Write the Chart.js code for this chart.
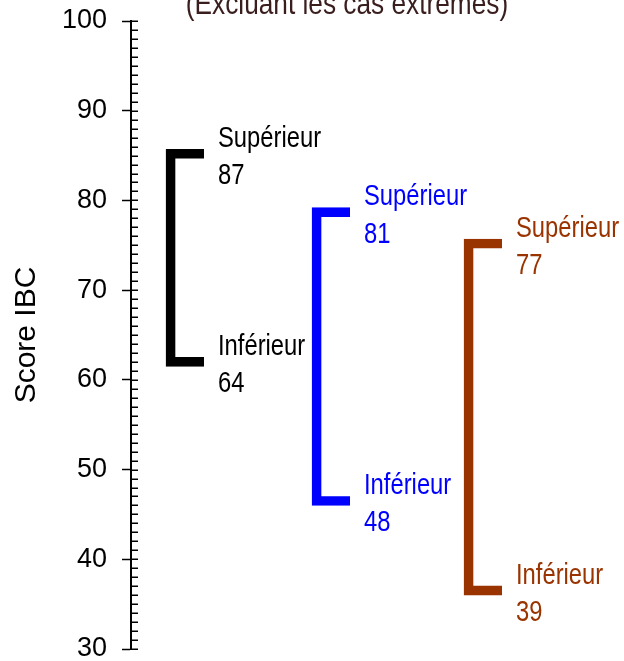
<!DOCTYPE html>
<html>
<head>
<meta charset="utf-8">
<script src="https://cdn.jsdelivr.net/npm/chart.js@4/dist/chart.umd.min.js"></script>
<style>
    html, body { margin: 0; padding: 0; background: #fff; overflow: hidden; }
    #wrap { position: relative; width: 624px; height: 661px; overflow: hidden; }
    #chart { position: absolute; left: 0; top: -20px; }
</style>
</head>
<body>
<div id="wrap"><canvas id="chart" width="624" height="702"></canvas></div>
<script>
var groupX       = [1, 1.98, 3];
var bracketLow   = [61.5, 46, 36];
var bracketHigh  = [85.7, 79.2, 75.7];
var upperValues  = [87, 81, 77];
var lowerValues  = [64, 48, 39];
var upperText    = 'Supérieur';
var lowerText    = 'Inférieur';
var groupColors  = ['#000000', '#0000ff', '#993300'];
var titleText    = '(Excluant les cas extrêmes)';
var yTitle       = 'Score IBC';
var yMin = 30, yMax = 100, yMinorStep = 1, yMajorStep = 10;

var SANS = "'Liberation Sans', Arial, sans-serif";
var NARROW_SCALE = 0.82;   // no Arial Narrow installed: squeeze Liberation Sans
var BORDER = 9;

function narrowText(ctx, text, x, y) {
    ctx.save();
    ctx.translate(x, y);
    ctx.scale(NARROW_SCALE, 1);
    ctx.fillText(text, 0, 0);
    ctx.restore();
}

// small ticks on the inside of the axis line
var innerTicks = {
    id: 'innerTicks',
    afterDraw: function(chart) {
        var s = chart.scales.y, ctx = chart.ctx;
        ctx.save();
        ctx.strokeStyle = '#000';
        ctx.lineWidth = 1.5;
        s.ticks.forEach(function(t, i) {
            var y = Math.round(s.getPixelForTick(i)) + 0.25;
            ctx.beginPath();
            ctx.moveTo(s.right, y);
            ctx.lineTo(s.right + 7, y);
            ctx.stroke();
        });
        ctx.restore();
    }
};

// narrow title, partly above the window edge
var narrowTitle = {
    id: 'narrowTitle',
    afterDraw: function(chart) {
        var ctx = chart.ctx, a = chart.chartArea;
        ctx.save();
        ctx.font = '32px ' + SANS;
        ctx.fillStyle = '#3a1e1e';
        ctx.textAlign = 'center';
        ctx.textBaseline = 'alphabetic';
        narrowText(ctx, titleText, (a.left + a.right) / 2, a.top - 7);
        ctx.restore();
    }
};

// two-line text next to each end of a bracket
var bracketLabels = {
    id: 'bracketLabels',
    afterDatasetsDraw: function(chart) {
        var ctx = chart.ctx;
        var meta = chart.getDatasetMeta(0);
        ctx.save();
        ctx.font = '29px ' + SANS;
        ctx.textAlign = 'left';
        ctx.textBaseline = 'alphabetic';
        meta.data.forEach(function(bar, i) {
            var x = bar.x + bar.width / 2 + 14;
            var yTop = bar.y + BORDER / 2;
            var yBot = bar.base - BORDER / 2;
            ctx.fillStyle = groupColors[i];
            narrowText(ctx, upperText, x, yTop - 7);
            narrowText(ctx, String(upperValues[i]), x, yTop + 30.5);
            narrowText(ctx, lowerText, x, yBot - 7);
            narrowText(ctx, String(lowerValues[i]), x, yBot + 30.5);
        });
        ctx.restore();
    }
};

new Chart(document.getElementById('chart'), {
    type: 'bar',
    data: {
        datasets: [{
            data: groupX.map(function(x, i) { return { x: x, y: [bracketLow[i], bracketHigh[i]] }; }),
            backgroundColor: 'rgba(0,0,0,0)',
            borderColor: groupColors,
            borderWidth: BORDER,
            borderSkipped: 'right',
            barThickness: 38
        }]
    },
    options: {
        responsive: false,
        animation: false,
        layout: { padding: { left: 0, right: 61, top: 41, bottom: 33 } },
        plugins: {
            legend: { display: false },
            tooltip: { enabled: false },
            title: { display: false }
        },
        scales: {
            x: { type: 'linear', display: false, offset: false, min: 0.6376, max: 3.537 },
            y: {
                min: yMin,
                max: yMax,
                afterFit: function(s) { s.width = 131; },
                border: { display: true, color: '#000', width: 2 },
                grid: {
                    drawOnChartArea: false,
                    drawTicks: true,
                    tickLength: 9,
                    tickWidth: 1.5,
                    tickColor: function(c) { return c.tick && c.tick.value % yMajorStep === 0 ? '#000' : 'rgba(0,0,0,0)'; }
                },
                ticks: {
                    stepSize: yMinorStep,
                    autoSkip: false,
                    padding: 15,
                    color: '#000',
                    font: { family: SANS, size: 27 },
                    callback: function(v) { return v % yMajorStep === 0 ? String(v) : ''; }
                },
                title: {
                    display: true,
                    text: yTitle,
                    color: '#000',
                    font: { family: SANS, size: 30, lineHeight: 1.2 },
                    padding: { top: 9, bottom: 0 }
                }
            }
        }
    },
    plugins: [innerTicks, narrowTitle, bracketLabels]
});
</script>
</body>
</html>
